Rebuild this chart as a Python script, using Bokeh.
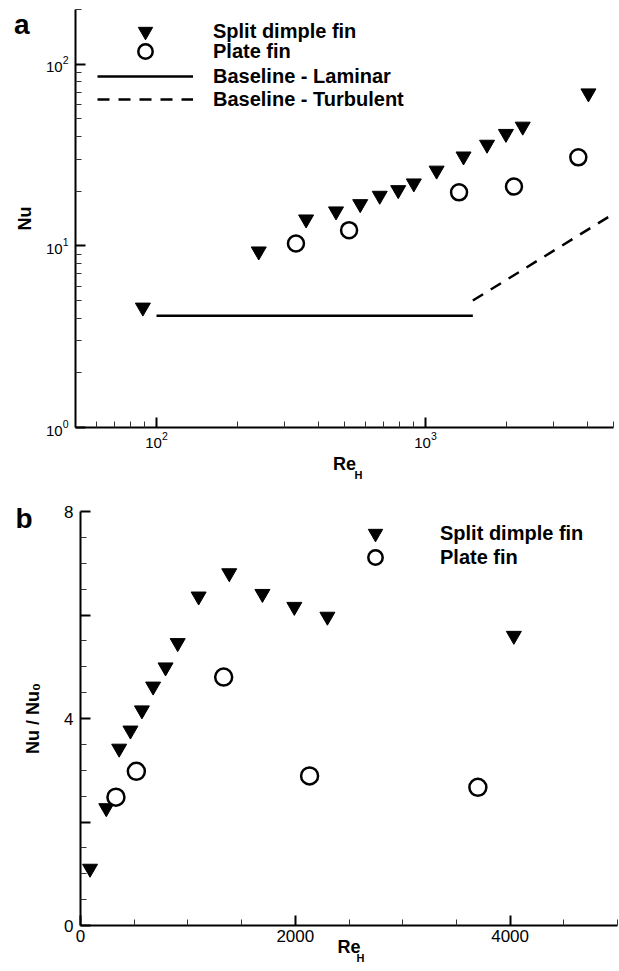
import math
from bokeh.plotting import figure
from bokeh.models import Range1d, FixedTicker, Legend, LegendItem, LinearAxis, LinearScale
from bokeh.layouts import column, row
from bokeh.embed import file_html
from bokeh.resources import INLINE

# ---------------- data ----------------
re_sd = [89, 240, 360, 465, 572, 676, 792, 905, 1100, 1385, 1694, 1991, 2299, 4035]
nu_sd = [4.58, 9.33, 14.0, 15.5, 17.0, 18.9, 20.3, 22.1, 26.0, 31.1, 36.1, 41.4, 45.4, 69.2]
ratio_sd = [1.10, 2.27, 3.42, 3.77, 4.16, 4.62, 4.99, 5.46, 6.36, 6.81, 6.41, 6.16, 5.97, 5.60]

re_pf = [330, 520, 1333, 2133, 3700]
nu_pf = [10.3, 12.2, 19.7, 21.2, 30.7]
ratio_pf = [2.48, 2.98, 4.80, 2.89, 2.67]

re_lam = [100, 1500]
nu_lam = [4.12, 4.12]
re_turb = [1500, 5000]
nu_turb = [5.0, 15.0]

legend_a = ["Split dimple fin", "Plate fin", "Baseline - Laminar", "Baseline - Turbulent"]
legend_b = ["Split dimple fin", "Plate fin"]

xa_major = [100, 1000]
xa_minor = [50, 60, 70, 80, 90, 200, 300, 400, 500, 600, 700, 800, 900, 2000, 3000, 4000, 5000]
ya_major = [1, 10, 100]
ya_minor = [2, 3, 4, 5, 6, 7, 8, 9, 20, 30, 40, 50, 60, 70, 80, 90, 200]

xb_major = [0, 2000, 4000]
xb_minor = [500, 1000, 1500, 2500, 3000, 3500, 4500, 5000]
yb_major = [0, 2, 4, 6, 8]
yb_minor = [0.5, 1, 1.5, 2.5, 3, 3.5, 4.5, 5, 5.5, 6.5, 7, 7.5]

FONT = "Liberation Sans"


def style(p, label_size):
    p.xgrid.visible = False
    p.ygrid.visible = False
    p.outline_line_color = None
    p.background_fill_color = "white"
    p.border_fill_color = "white"
    for ax in (p.xaxis[0], p.yaxis[0]):
        ax.axis_line_width = 2
        ax.axis_line_color = "black"
        ax.major_tick_line_width = 2
        ax.major_tick_line_color = "black"
        ax.major_tick_in = 10
        ax.major_tick_out = 0
        ax.minor_tick_in = 6
        ax.minor_tick_out = 0
        ax.minor_tick_line_width = 1
        ax.minor_tick_line_color = "#333333"
        ax.major_label_text_font = FONT
        ax.major_label_text_font_size = label_size
        ax.major_label_text_color = "black"
        ax.axis_label_text_font = FONT
        ax.axis_label_text_font_size = "18px"
        ax.axis_label_text_font_style = "bold"
        ax.axis_label_text_color = "black"
    p.xaxis[0].major_label_standoff = 4
    p.yaxis[0].major_label_standoff = 7


def text_axis(p, side, range_name, rng, pos, text, size, standoff):
    """An axis with no line or ticks, used only to place one piece of text outside the frame."""
    if side == "left":
        p.extra_y_ranges[range_name] = rng
        p.extra_y_scales[range_name] = LinearScale()
        ax = LinearAxis(y_range_name=range_name)
    else:
        p.extra_x_ranges[range_name] = rng
        p.extra_x_scales[range_name] = LinearScale()
        ax = LinearAxis(x_range_name=range_name)
    ax.ticker = FixedTicker(ticks=[pos])
    ax.major_label_overrides = {pos: text}
    ax.axis_line_color = None
    ax.major_tick_line_color = None
    ax.minor_tick_line_color = None
    ax.major_tick_in = 0
    ax.major_tick_out = 0
    ax.major_label_standoff = standoff
    ax.major_label_text_font = FONT
    ax.major_label_text_font_size = size
    ax.major_label_text_font_style = "bold"
    ax.major_label_text_color = "black"
    p.add_layout(ax, side)


def row_legend(p, label, renderer, x, y, gw, standoff):
    p.add_layout(Legend(items=[LegendItem(label=label, renderers=[renderer])],
                        location=(x, y), glyph_width=gw, glyph_height=36,
                        label_standoff=standoff, label_height=20, padding=0, margin=0,
                        border_line_alpha=0, background_fill_alpha=0,
                        label_text_font=FONT, label_text_font_style="bold",
                        label_text_color="black",
                        label_text_font_size="20px", label_text_baseline="middle"))


# ---------------- figure a ----------------
pa = figure(width=615, height=488, x_axis_type="log", y_axis_type="log",
            x_range=Range1d(50, 5000), y_range=Range1d(1, 200),
            output_backend="svg", toolbar_location=None, title=None,
            min_border_left=75, min_border_right=2, min_border_top=9, min_border_bottom=61)
style(pa, "15px")
pa.xaxis[0].ticker = FixedTicker(ticks=xa_major, minor_ticks=xa_minor)
pa.yaxis[0].ticker = FixedTicker(ticks=ya_major, minor_ticks=ya_minor)
pa.yaxis[0].axis_label = "Nu"
pa.yaxis[0].axis_label_standoff = 8
pa.xaxis[0].axis_label = "Re"
pa.xaxis[0].axis_label_standoff = 3

r_lam = pa.line(re_lam, nu_lam, line_color="black", line_width=2.5)
r_turb = pa.line(re_turb, nu_turb, line_color="black", line_width=2.5, line_dash="12 9")
r_sd = pa.scatter(re_sd, nu_sd, marker="inverted_triangle", size=15,
                  fill_color="black", line_color="black", line_width=1)
r_pf = pa.scatter(re_pf, nu_pf, marker="circle", size=16,
                  fill_color="white", line_color="black", line_width=2.5)

row_legend(pa, legend_a[0], r_sd, 22, 378, 96, 20)
row_legend(pa, legend_a[1], r_pf, 22, 358, 96, 20)
row_legend(pa, legend_a[2], r_lam, 22, 333, 96, 20)
row_legend(pa, legend_a[3], r_turb, 22, 310, 96, 20)

text_axis(pa, "left", "lab_a", Range1d(0, 418), 403, "a", "28px", -18)
text_axis(pa, "below", "sub_a", Range1d(0, 538), 283, "H", "11px", -8)

# ---------------- figure b ----------------
pb = figure(width=618, height=482, x_range=Range1d(0, 5000), y_range=Range1d(0, 8),
            output_backend="svg", toolbar_location=None, title=None,
            min_border_left=80, min_border_right=1, min_border_top=23, min_border_bottom=45)
style(pb, "17px")
pb.xaxis[0].ticker = FixedTicker(ticks=xb_major, minor_ticks=xb_minor)
pb.yaxis[0].ticker = FixedTicker(ticks=yb_major, minor_ticks=yb_minor)
pb.yaxis[0].major_label_overrides = {2: "", 6: ""}
pb.yaxis[0].axis_label = "Nu / Nu\u2080"
pb.yaxis[0].axis_label_standoff = 18
pb.xaxis[0].axis_label = "Re"
pb.xaxis[0].axis_label_standoff = -8

rb_sd = pb.scatter(re_sd, ratio_sd, marker="inverted_triangle", size=15,
                   fill_color="black", line_color="black", line_width=1)
rb_pf = pb.scatter(re_pf, ratio_pf, marker="circle", size=17,
                   fill_color="white", line_color="black", line_width=2.5)

row_legend(pb, legend_b[0], rb_sd, 277, 374, 36, 47)
row_legend(pb, legend_b[1], rb_pf, 277, 350, 36, 47)

text_axis(pb, "left", "lab_b", Range1d(0, 414), 407, "b", "28px", -12)
text_axis(pb, "below", "sub_b", Range1d(0, 537), 280, "H", "11px", -8)

layout = column(row(pa), row(pb), spacing=0)
open("out.html", "w").write(file_html(layout, INLINE))
